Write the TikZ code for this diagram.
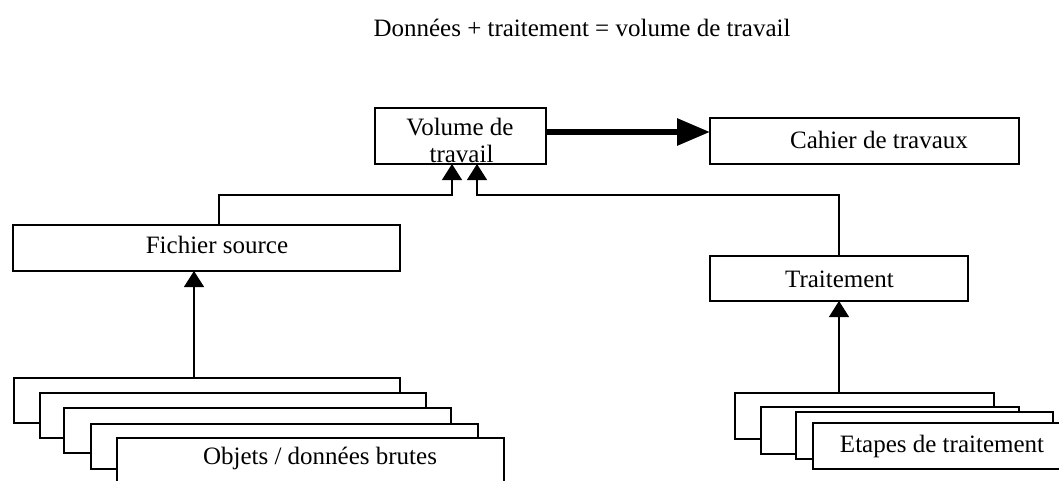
\documentclass[tikz,border=0pt]{standalone}
\usepackage{fontspec}
\setmainfont{Liberation Serif}
\usetikzlibrary{arrows.meta}
\begin{document}
\begin{tikzpicture}[x=1pt,y=-1pt,
  box/.style={draw, line width=1.2pt, fill=white, inner sep=0pt, outer sep=0pt, anchor=north west},
  lbl/.style={anchor=base, inner sep=0pt, font=\fontsize{25}{28}\selectfont},
  con/.style={line width=1.2pt, -{Triangle[length=16pt,width=20pt]}},
  big/.style={line width=6pt, -{Triangle[length=33pt,width=26pt]}}]
\clip (0,0) rectangle (1059,480);
% main boxes
\node[box, minimum width=171pt, minimum height=56pt] (vol) at (375,108) {};
\node[box, minimum width=309pt, minimum height=46pt] (cah) at (710,118) {};
\node[box, minimum width=387pt, minimum height=46pt] (fich) at (13,225) {};
\node[box, minimum width=258pt, minimum height=45pt] (trait) at (710,256) {};
% left stack
\node[box, minimum width=386pt, minimum height=45pt] (s1) at (14,378) {};
\node[box, minimum width=386pt, minimum height=45pt] (s2) at (40,393) {};
\node[box, minimum width=387pt, minimum height=45pt] (s3) at (64,408) {};
\node[box, minimum width=387pt, minimum height=45pt] (s4) at (91,424) {};
\node[box, minimum width=387pt, minimum height=46pt] (s5) at (117,438) {};
% right stack
\node[box, minimum width=259pt, minimum height=46pt] (t1) at (735,393) {};
\node[box, minimum width=258pt, minimum height=47pt] (t2) at (761,407) {};
\node[box, minimum width=257pt, minimum height=47pt] (t3) at (796,412) {};
\node[box, minimum width=270pt, minimum height=46pt] (t4) at (813,423) {};
% labels
\node[lbl] (title) at (582,36) {Données + traitement = volume de travail};
\node[lbl] (volA) at (460,135) {Volume de};
\node[lbl] (volB) at (461.5,162) {travail};
\node[lbl] (cahT) at (879,148) {Cahier de travaux};
\node[lbl] (fichT) at (217,253) {Fichier source};
\node[lbl] (traitT) at (839.5,287) {Traitement};
\node[lbl] (s5T) at (320,464) {Objets / données brutes};
\node[lbl] (t4T) at (942,452) {Etapes de traitement};
% connectors
\draw[big] ([yshift=4pt]vol.east) -- ([yshift=4pt]vol.east -| cah.west);
\draw[con] ([xshift=12.5pt]fich.north) -- ++(0,-30) -| ([xshift=-8.5pt]vol.south);
\draw[con] (trait.north) -- ++(0,-61) -| ([xshift=16.5pt]vol.south);
\draw[con] ([xshift=-13pt]s1.north) -- ([xshift=-13pt]s1.north |- fich.south);
\draw[con] (t1.north -| trait.south) -- (trait.south);
\end{tikzpicture}
\end{document}
